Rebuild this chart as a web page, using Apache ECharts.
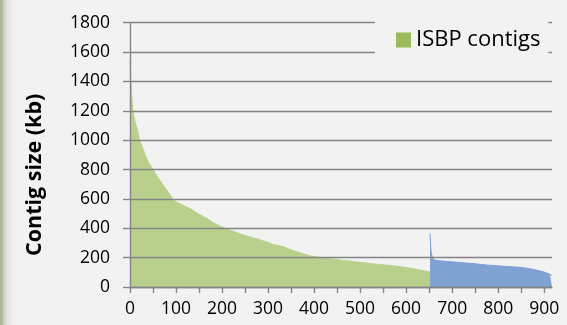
<!DOCTYPE html>
<html>
<head>
<meta charset="utf-8">
<script src="https://cdn.jsdelivr.net/npm/echarts@6/dist/echarts.min.js"></script>
<style>
  html, body { margin: 0; padding: 0; }
  body {
    width: 567px; height: 325px; overflow: hidden;
    background: linear-gradient(to right, #a9b994 0px, #a9b994 2px, #c6c6c6 3px, #e6e6e6 8px, #f2f2f2 14px);
  }
  #chart { width: 567px; height: 325px; }
</style>
</head>
<body>
<div id="chart"></div>
<script>
// Contigs ranked by size (rank, size in kb), largest first
const isbpRanks = [0, 1, 2, 4, 6, 11, 16, 21, 29, 33, 40, 50, 60, 69, 80, 93, 100, 115, 130, 145, 159, 170, 181, 195, 210, 228, 246, 268, 290, 311, 333, 348, 370, 391, 413, 435, 456, 490, 529, 560, 587, 610, 623, 640, 652];
const isbpSizes = [1550, 1470, 1400, 1300, 1200, 1125, 1070, 1000, 935, 900, 850, 800, 750, 707, 660, 600, 580, 557, 535, 505, 480, 462, 438, 415, 395, 375, 354, 335, 314, 290, 275, 255, 232, 212, 200, 192, 184, 172, 157, 148, 139, 128, 120, 110, 103];

const otherRanks = [652, 653, 654, 656, 658, 665, 674, 700, 724, 750, 775, 800, 825, 848, 870, 884, 900, 913, 917];
const otherSizes = [365, 300, 250, 215, 190, 182, 178, 172, 165, 158, 150, 144, 139, 134, 124, 115, 102, 85, 80];

const xTicks = [0, 50, 100, 150, 200, 250, 300, 350, 400, 450, 500, 550, 600, 650, 700, 750, 800, 850, 900];
const xLabels = [0, 100, 200, 300, 400, 500, 600, 700, 800, 900];
const yTicks = [0, 200, 400, 600, 800, 1000, 1200, 1400, 1600, 1800];

const pairs = (xs, ys) => xs.map((x, i) => [x, ys[i]]);

const FONT = '"Open Sans", "Noto Sans", sans-serif';
const GRID = '#858585';

const chart = echarts.init(document.getElementById('chart'), null, { renderer: 'canvas' });
chart.setOption({
  backgroundColor: 'transparent',
  animation: false,
  grid: { left: 130, right: 15, top: 22.7, bottom: 38 },
  legend: {
    data: ['ISBP contigs'],
    left: 375, top: 14,
    padding: [15, 8, 15, 21],
    backgroundColor: '#f2f2f2',
    itemWidth: 15, itemHeight: 15, itemGap: 7,
    icon: 'rect',
    textStyle: { fontFamily: FONT, fontSize: 22, color: '#000' }
  },
  xAxis: {
    type: 'value', min: 0, max: 917, z: 3,
    axisLine: { show: true, lineStyle: { color: GRID, width: 1.4 } },
    axisTick: { show: true, length: 6, customValues: xTicks, lineStyle: { color: GRID, width: 1.4 } },
    axisLabel: { customValues: xLabels, margin: 13, fontFamily: FONT, fontSize: 17.5, color: '#000',
      formatter: v => String(v) },
    splitLine: { show: false }
  },
  yAxis: {
    type: 'value', min: 0, max: 1800, interval: 200, z: 3,
    name: 'Contig size (kb)', nameLocation: 'middle', nameGap: 84,
    nameTextStyle: { fontFamily: FONT, fontSize: 21.5, fontWeight: 'bold', color: '#000',
      padding: [0, 40, 0, 0] },
    axisLine: { show: true, lineStyle: { color: GRID, width: 1.4 } },
    axisTick: { show: true, length: 7, customValues: yTicks, lineStyle: { color: GRID, width: 1.4 } },
    axisLabel: { margin: 20, fontFamily: FONT, fontSize: 17.5, color: '#000',
      formatter: v => String(v) },
    splitLine: { show: true, lineStyle: { color: GRID, width: 1.4 } }
  },
  series: [
    {
      name: 'ISBP contigs', type: 'line', data: pairs(isbpRanks, isbpSizes),
      symbol: 'none', z: 2,
      itemStyle: { color: '#9bbb59' },
      lineStyle: { color: '#b9d08c', width: 1 },
      areaStyle: { color: '#b9d08c', opacity: 1 }
    },
    {
      name: 'Other contigs', type: 'line', data: pairs(otherRanks, otherSizes),
      symbol: 'none', z: 2,
      itemStyle: { color: '#4f81bd' },
      lineStyle: { color: '#7fa2d3', width: 1 },
      areaStyle: { color: '#7fa2d3', opacity: 1 }
    }
  ]
});
</script>
</body>
</html>
